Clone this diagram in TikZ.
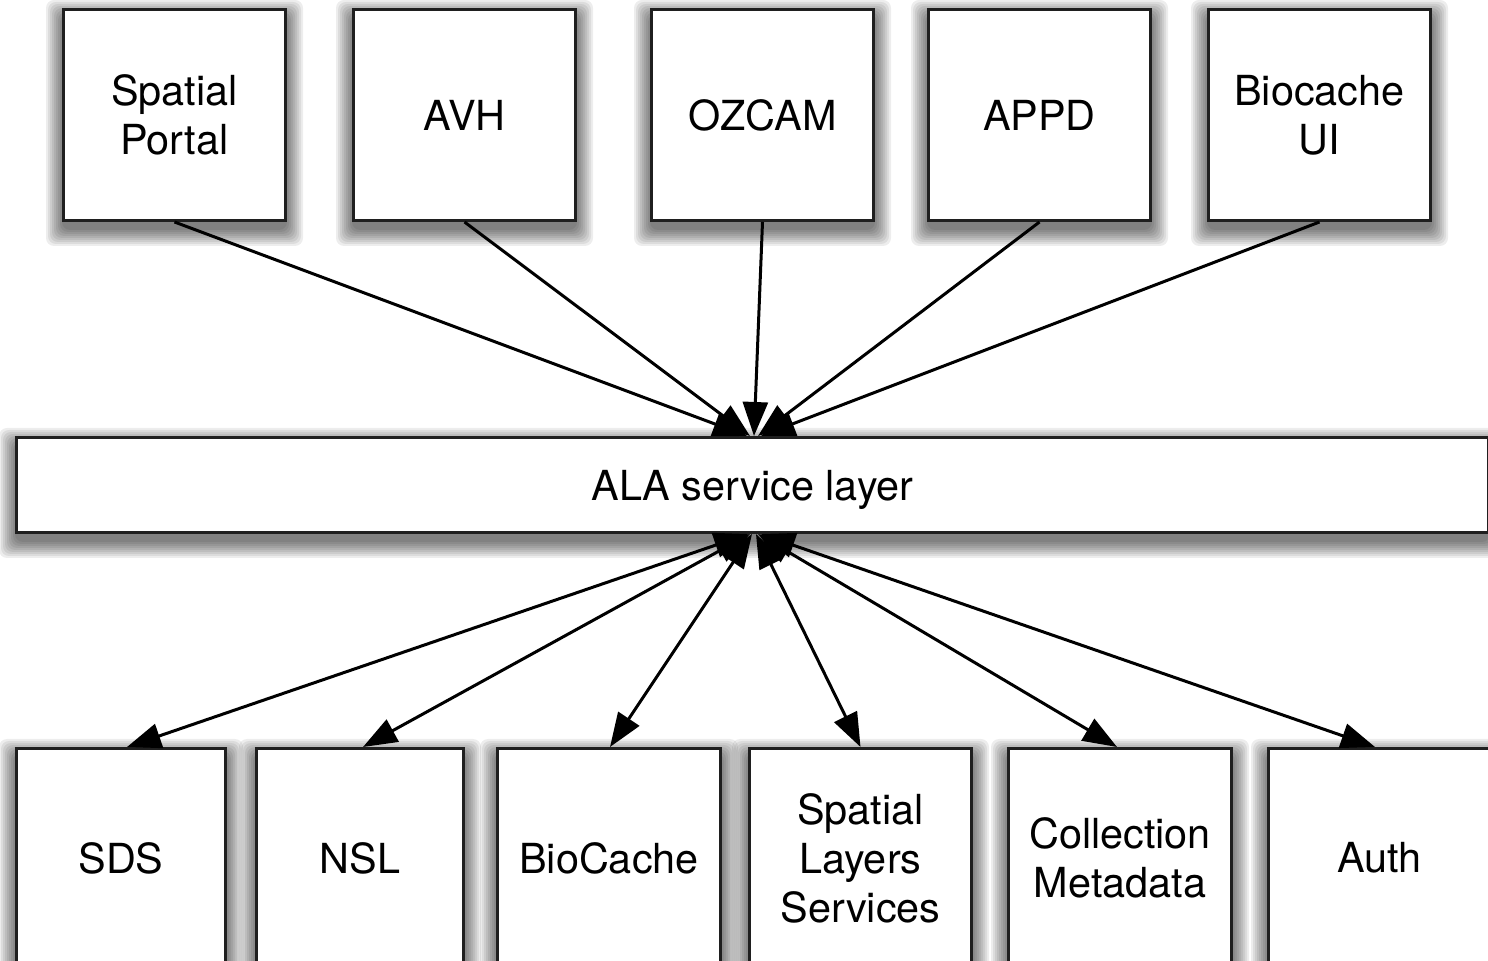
\documentclass[tikz,border=0pt]{standalone}
\usepackage{fontspec}
\setmainfont{TeX Gyre Heros}
\usetikzlibrary{arrows.meta,calc,backgrounds}
\newcommand\mkshadow[1]{%
  \foreach \r in {0,2,...,16}{%
    \fill[black,opacity=0.07,rounded corners=4pt]
      ($(#1.north west)+(-\r,8-\r)$) rectangle ($(#1.south east)+(\r,8+\r)$);}}
\begin{document}
\begin{tikzpicture}[x=0.5pt,y=-0.5pt,
  box/.style={draw=black!88, line width=1.5pt, fill=white, align=center, inner sep=0pt,
    font=\fontsize{20.7}{24.5}\selectfont},
  topbox/.style={box, minimum width=111pt, minimum height=105.5pt},
  botbox/.style={box, minimum height=109.5pt},
  conn/.style={line width=1.5pt, draw=black, -{Triangle[length=17pt,width=12.5pt]}},
  bconn/.style={line width=1.5pt, draw=black, {Triangle[length=17pt,width=12.5pt]}-{Triangle[length=17pt,width=12.5pt]}}
]
\useasboundingbox (0,0) rectangle (1488,961);
\clip (0,0) rectangle (1488,961);

% top row
\node[topbox] (sp)   at (174.5,115)  {Spatial\\Portal};
\node[topbox] (avh)  at (464.5,115)  {AVH};
\node[topbox] (oz)   at (762.5,115)  {OZCAM};
\node[topbox] (appd) at (1039.5,115) {APPD};
\node[topbox] (bui)  at (1319.5,115) {Biocache\\UI};

% service layer
\node[box, minimum width=736pt, minimum height=47.5pt, text depth=0pt] (bar) at (752.5,485) {ALA service layer};

% bottom row
\node[botbox, minimum width=104.5pt] (sds)  at (121,858)    {SDS};
\node[botbox, minimum width=103.5pt] (nsl)  at (360,858)    {NSL};
\node[botbox, minimum width=111.5pt] (bc)   at (609,858)    {BioCache};
\node[botbox, minimum width=111pt]   (sls)  at (860.5,858)  {Spatial\\Layers\\Services};
\node[botbox, minimum width=111.5pt] (cm)   at (1120,858)   {Collection\\Metadata};
\node[botbox, minimum width=111pt]   (auth) at (1379.5,858) {Auth};

% shadows and background
\begin{pgfonlayer}{background}
  \fill[white] (0,0) rectangle (1488,961);
  \foreach \n in {sp,avh,oz,appd,bui,bar,sds,nsl,bc,sls,cm,auth}{\mkshadow{\n}}
\end{pgfonlayer}

% top connectors
\draw[conn] (sp.south)   -- ($(bar.north)+(-5.5,0)$);
\draw[conn] (avh.south)  -- ($(bar.north)+(-2.5,0)$);
\draw[conn] (oz.south)   -- ($(bar.north)+(1.5,0)$);
\draw[conn] (appd.south) -- ($(bar.north)+(5.5,0)$);
\draw[conn] (bui.south)  -- ($(bar.north)+(8.5,0)$);

% bottom connectors
\draw[bconn] ($(bar.south)+(-4.5,0)$) -- ($(sds.north)+(6,0)$);
\draw[bconn] ($(bar.south)+(-2.5,0)$) -- ($(nsl.north)+(3,0)$);
\draw[bconn] ($(bar.south)+(-0.5,0)$) -- ($(bc.north)+(1,0)$);
\draw[bconn] ($(bar.south)+(3.5,0)$)  -- (sls.north);
\draw[bconn] ($(bar.south)+(5.5,0)$)  -- ($(cm.north)+(-3,0)$);
\draw[bconn] ($(bar.south)+(8.5,0)$)  -- ($(auth.north)+(-4.5,0)$);
\end{tikzpicture}
\end{document}
